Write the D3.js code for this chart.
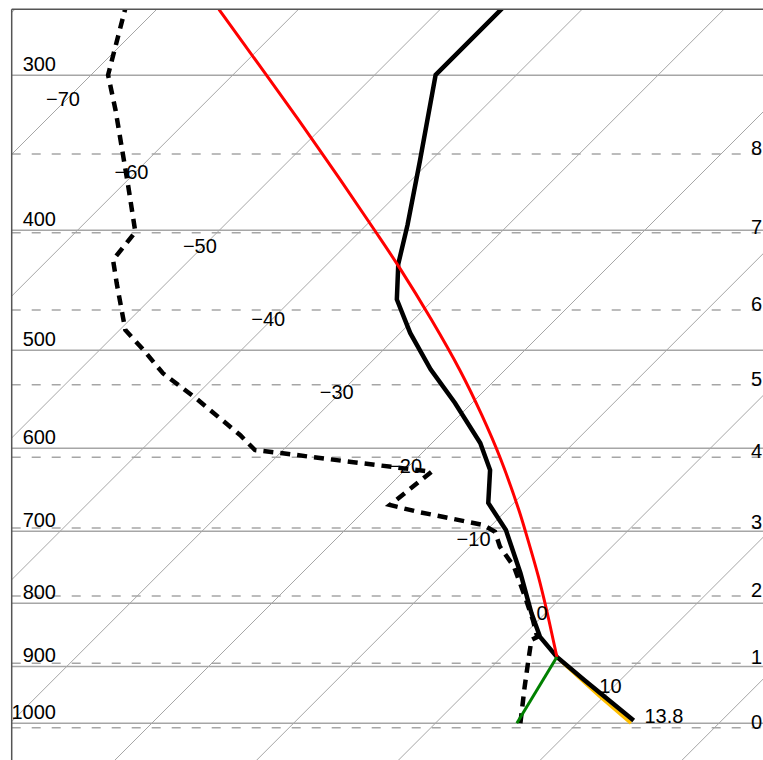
<!DOCTYPE html>
<html>
<head>
<meta charset="utf-8">
<script src="https://cdn.jsdelivr.net/npm/d3@7"></script>
<style>
  html, body { margin: 0; padding: 0; background: #fff; }
  svg { display: block; }
  text { font-family: "Liberation Sans", Arial, sans-serif; font-size: 20px; fill: #000; }
</style>
</head>
<body>
<svg id="chart" width="763" height="760"></svg>
<script>
// Grid levels
const isobars = [300, 400, 500, 600, 700, 800, 900, 1000];
const isobarLabels = ["300", "400", "500", "600", "700", "800", "900", "1000"];
const isotherms = [-120, -110, -100, -90, -80, -70, -60, -50, -40, -30, -20, -10, 0, 10, 20, 30, 40];
const isothermLabels = [-70, -60, -50, -40, -30, -20, -10, 0, 10];
const heightKm = [0, 1, 2, 3, 4, 5, 6, 7, 8];
const heightPressure = [1008.2, 894.5, 789.4, 695.6, 610.0, 533.1, 464.0, 401.9, 347.2];

// Environmental temperature profile (hPa, degC)
const tempPressure = [995, 922.7, 884.1, 851.8, 814.7, 756.3, 698.3, 664.1, 624.6, 594.0, 551.5, 518.0, 484.2, 455.0, 426.0, 396.2, 351.1, 299.8, 264.7];
const tempValue    = [13.8, 7.45, 3.9, 1.3, -1.0, -4.6, -8.65, -11.8, -14.0, -16.6, -21.2, -25.3, -29.3, -32.6, -35.0, -37.1, -40.8, -45.7, -45.7];

// Dew point profile (hPa, degC)
const dewPressure = [1000, 936.5, 889.0, 856.6, 851.8, 825.4, 790.4, 747.5, 720.2, 700.5, 691.8, 674.9, 666.6, 626.6, 615.1, 605.5, 601.8, 585.3, 546.7, 521.8, 499.8, 481.5, 441.5, 422.8, 401.4, 368.9, 320.0, 299.8, 264.7];
const dewValue    = [6.0, 3.8, 2.1, 0.9, 1.1, -0.4, -2.6, -5.5, -7.9, -9.3, -10.6, -16.2, -18.6, -18.0, -24.5, -29.8, -32.0, -34.1, -39.8, -43.9, -46.9, -49.6, -53.5, -55.4, -55.8, -59.5, -65.8, -68.8, -72.3];

// Lifted parcel: dry ascent to the LCL, then saturated ascent
const dryPressure = [1000, 950, 900, 884.1];
const dryValue    = [13.8, 9.6, 5.3, 3.9];
const moistPressure = [884.1, 856.6, 810.2, 761.5, 702.6, 672.8, 611.2, 563.9, 518.7, 472.7, 429.1, 399.9, 364.4, 325.9, 295.4, 265.4];
const moistValue    = [3.9, 2.44, -0.14, -3.07, -7.0, -9.15, -14.1, -18.47, -23.19, -28.7, -34.63, -39.08, -45.01, -52.2, -58.61, -65.61];

// Constant mixing ratio from surface dew point to the LCL
const mixPressure = [1000, 884.1];
const mixValue    = [5.75, 3.9];

const surfaceLabel = "13.8";

// ---- layout ----
const W = 763, H = 760;
const plotLeft = 11.7, plotTop = 9.3;
const svg = d3.select("#chart");

const y = d3.scaleLog().domain([1000, 300]).range([723.3, 75.3]);
const xT = d3.scaleLinear().domain([0, 10]).range([435.3, 577.1]);
// skewed x position: isotherms run at 45 degrees
const sx = (t, p) => xT(t) + (y(1000) - y(p));

svg.append("defs").append("clipPath").attr("id", "plotClip")
  .append("rect").attr("x", plotLeft).attr("y", plotTop)
  .attr("width", W - plotLeft).attr("height", H - plotTop);

const plot = svg.append("g").attr("clip-path", "url(#plotClip)");

// isotherms
plot.append("g").selectAll("line").data(isotherms).join("line")
  .attr("x1", t => sx(t, y.invert(H + 50)))
  .attr("y1", H + 50)
  .attr("x2", t => sx(t, y.invert(plotTop - 50)))
  .attr("y2", plotTop - 50)
  .attr("stroke", "#a6a6a6").attr("stroke-width", 1);

// height levels (dashed)
plot.append("g").selectAll("line").data(heightPressure).join("line")
  .attr("x1", plotLeft).attr("x2", W)
  .attr("y1", p => y(p)).attr("y2", p => y(p))
  .attr("stroke", "#a6a6a6").attr("stroke-width", 1.5)
  .attr("stroke-dasharray", "9,11");

// isobars
plot.append("g").selectAll("line").data(isobars).join("line")
  .attr("x1", plotLeft).attr("x2", W)
  .attr("y1", p => y(p)).attr("y2", p => y(p))
  .attr("stroke", "#a6a6a6").attr("stroke-width", 1.5);

// profile line builder
const profile = (ps, ts, curve) =>
  d3.line().curve(curve || d3.curveLinear)(ps.map((p, i) => [sx(ts[i], p), y(p)]));

plot.append("path").attr("d", profile(dryPressure, dryValue))
  .attr("fill", "none").attr("stroke", "#ffbf00").attr("stroke-width", 3.5);

plot.append("path").attr("d", profile(tempPressure, tempValue))
  .attr("fill", "none").attr("stroke", "#000").attr("stroke-width", 4.5)
  .attr("stroke-linejoin", "miter");

plot.append("path").attr("d", profile(dewPressure, dewValue))
  .attr("fill", "none").attr("stroke", "#000").attr("stroke-width", 4.5)
  .attr("stroke-dasharray", "10,7");

plot.append("path").attr("d", profile(moistPressure, moistValue, d3.curveCatmullRom))
  .attr("fill", "none").attr("stroke", "#ff0000").attr("stroke-width", 3);

plot.append("path").attr("d", profile(mixPressure, mixValue))
  .attr("fill", "none").attr("stroke", "#008000").attr("stroke-width", 3);

// isotherm labels, stepped evenly down the diagram
const labelY = d3.scaleLinear().domain([-70, 10]).range([y(313.5), y(933)]);
plot.append("g").selectAll("text").data(isothermLabels).join("text")
  .attr("x", t => sx(t, y.invert(labelY(t))) - 4)
  .attr("y", t => labelY(t) + 7)
  .attr("text-anchor", "middle")
  .text(t => t < 0 ? "\u2212" + Math.abs(t) : String(t));

// pressure labels
svg.append("g").selectAll("text").data(isobars).join("text")
  .attr("x", 56).attr("y", p => y(p) - 4.5)
  .attr("text-anchor", "end")
  .text((p, i) => isobarLabels[i]);

// height labels
svg.append("g").selectAll("text").data(heightPressure).join("text")
  .attr("x", 751).attr("y", p => y(p) + 1)
  .text((p, i) => heightKm[i]);

// surface temperature label
svg.append("text")
  .attr("x", sx(dryValue[0], dryPressure[0]) + 13.5)
  .attr("y", y(dryPressure[0]))
  .text(surfaceLabel);

// frame
svg.append("line").attr("x1", plotLeft).attr("x2", W).attr("y1", plotTop).attr("y2", plotTop)
  .attr("stroke", "#555").attr("stroke-width", 1.5);
svg.append("line").attr("x1", plotLeft).attr("x2", plotLeft).attr("y1", plotTop).attr("y2", H)
  .attr("stroke", "#555").attr("stroke-width", 1.5);
</script>
</body>
</html>
